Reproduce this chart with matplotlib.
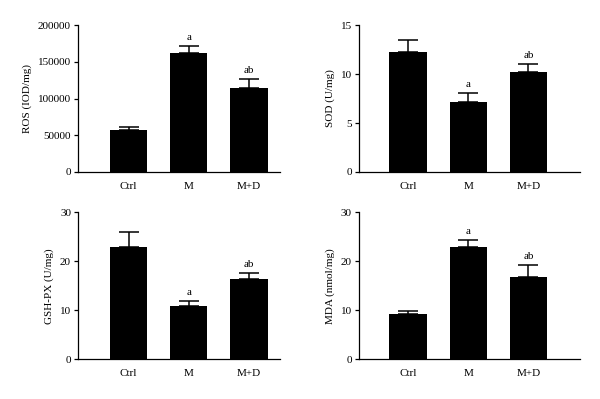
import matplotlib.pyplot as plt

# --- Data ---
groups = ['Ctrl', 'M', 'M+D']

ros_mean = [57500, 162300, 114700]
ros_err = [3700, 9100, 12300]

sod_mean = [12.3, 7.14, 10.2]
sod_err = [1.15, 0.95, 0.85]

gsh_mean = [23.0, 10.95, 16.45]
gsh_err = [3.1, 1.0, 1.1]

mda_mean = [9.25, 22.9, 16.9]
mda_err = [0.55, 1.5, 2.4]

sig_labels = ['', 'a', 'ab']

plt.rcParams['font.family'] = ['Liberation Serif', 'DejaVu Serif']


def bar_panel(ax, means, errs, ylabel, yticks, xlim):
    x = range(len(groups))
    ax.bar(x, means, width=0.62, color='black', zorder=2)
    ax.errorbar(x, means, yerr=[[0] * len(errs), errs], fmt='none',
                ecolor='black', elinewidth=1.1, capsize=7, capthick=1.1, zorder=1)
    for i, lab in enumerate(sig_labels):
        if lab:
            ax.annotate(lab, (i, means[i] + errs[i]), xytext=(0, 3),
                        textcoords='offset points', ha='center', va='bottom',
                        fontsize=8)
    ax.set_xlim(*xlim)
    ax.set_ylim(yticks[0], yticks[-1])
    ax.set_yticks(yticks)
    ax.set_xticks(list(x))
    ax.set_xticklabels(groups)
    ax.set_ylabel(ylabel, fontsize=8, labelpad=4)
    ax.spines['top'].set_visible(False)
    ax.spines['right'].set_visible(False)
    for s in ('left', 'bottom'):
        ax.spines[s].set_linewidth(0.9)
    ax.tick_params(axis='y', direction='out', length=3, width=0.9,
                   labelsize=8, pad=2)
    ax.tick_params(axis='x', length=0, labelsize=8, pad=7)


fig = plt.figure(figsize=(6, 3.99), dpi=100)

ax1 = fig.add_axes([0.13, 0.569, 0.337, 0.368])
ax2 = fig.add_axes([0.598, 0.569, 0.369, 0.368])
ax3 = fig.add_axes([0.13, 0.0995, 0.337, 0.368])
ax4 = fig.add_axes([0.598, 0.0995, 0.369, 0.368])

bar_panel(ax1, ros_mean, ros_err, 'ROS (IOD/mg)',
          [0, 50000, 100000, 150000, 200000], (-0.84, 2.52))
bar_panel(ax2, sod_mean, sod_err, 'SOD (U/mg)',
          [0, 5, 10, 15], (-0.82, 2.86))
bar_panel(ax3, gsh_mean, gsh_err, 'GSH-PX (U/mg)',
          [0, 10, 20, 30], (-0.84, 2.52))
bar_panel(ax4, mda_mean, mda_err, 'MDA (nmol/mg)',
          [0, 10, 20, 30], (-0.82, 2.86))

fig.savefig('out.png', dpi=100)
